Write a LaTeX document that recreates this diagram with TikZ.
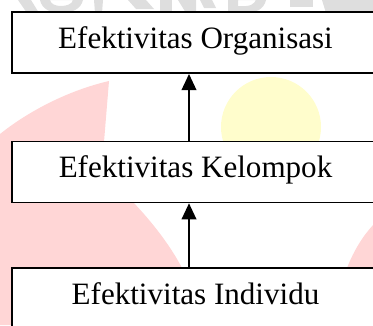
\documentclass[tikz,border=0pt]{standalone}
\usepackage{fontspec}
\setmainfont{Liberation Serif}
\usetikzlibrary{arrows.meta}
\definecolor{wmpink}{RGB}{255,214,214}
\definecolor{wmyellow}{RGB}{255,253,204}
\definecolor{wmgrey}{RGB}{222,222,222}
\tikzset{
  levelbox/.style={draw=black, line width=1.2pt, fill=white,
    minimum width=367*0.75pt, minimum height=61*0.75pt, inner sep=0pt,
    text height=0.85em, text depth=0pt,
    font=\fontsize{23.3}{28}\selectfont},
  uparrow/.style={line width=1.1pt, -{Triangle[length=12pt,width=11pt]}}
}
\begin{document}
\begin{tikzpicture}[x=0.75pt,y=-0.75pt]
\useasboundingbox (0,0) rectangle (373,325);
% faint logo watermark behind the chart
\fill[wmgrey] (18,0) -- (31,0) -- (39,13) -- (27,13) -- cycle;
\fill[wmgrey, even odd rule] (40,0) -- (83,0) .. controls (81,9) and (72,13) .. (61,13)
   .. controls (50,13) and (42,9) .. (40,0) -- cycle
   (50,0) -- (73,0) .. controls (72,4) and (67,6) .. (61,6) .. controls (55,6) and (51,4) .. (50,0) -- cycle;
\fill[wmgrey] (94,0) -- (103,0) -- (102,13) -- (95,13) -- cycle;
\fill[wmgrey] (128,0) -- (146,0) -- (154,9) -- (136,9) -- cycle;
\fill[wmgrey] (160,0) -- (172,0) -- (172,13) -- (160,13) -- cycle;
\fill[wmgrey] (178,0) -- (196,0) -- (196,13) -- (186,13) -- cycle;
\fill[wmgrey] (200,0) -- (212,0) -- (216,8) -- (204,8) -- cycle;
\fill[wmgrey, even odd rule] (228,0) -- (266,0) .. controls (264,9) and (256,13) .. (246,13)
   -- (228,13) -- cycle (238,0) -- (256,0) .. controls (254,4) and (250,6) .. (246,6) -- (238,6) -- cycle;
\fill[wmgrey] (290,0) -- (313,0) -- (313,7) -- (290,7) -- cycle;
\fill[wmgrey] (322,0) -- (373,0) -- (373,13) -- (326,13) -- cycle;
\fill[wmpink] (0,134) .. controls (30,110) and (70,90) .. (109,81) -- (104,142)
   -- (133,202) .. controls (152,222) and (170,245) .. (182,268) -- (205,325) -- (0,325) -- cycle;
\fill[wmpink] (347,268) .. controls (354,250) and (363,236) .. (373,225) -- (373,325) -- (330,325) -- cycle;
\fill[wmyellow] (271,127) circle[radius=50];
% the three levels of effectiveness
\node[levelbox] (org) at (195.5,42.7) {Efektivitas Organisasi};
\node[levelbox] (kel) at (195.5,172) {Efektivitas Kelompok};
\node[levelbox] (ind) at (195.5,298.5) {Efektivitas Individu};
\coordinate (ax) at (189,0);
\draw[uparrow] (kel.north -| ax) -- (org.south -| ax);
\draw[uparrow] (ind.north -| ax) -- (kel.south -| ax);
\end{tikzpicture}
\end{document}
